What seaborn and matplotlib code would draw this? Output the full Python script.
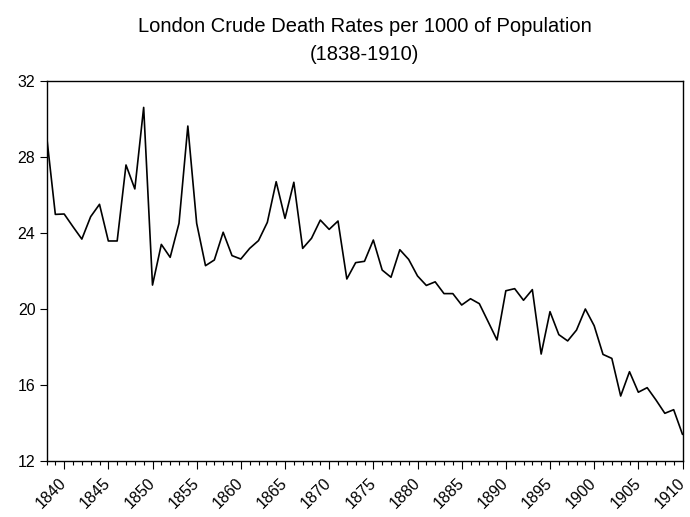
import numpy as np
import pandas as pd
import matplotlib
matplotlib.use("Agg")
import matplotlib.pyplot as plt
from matplotlib.ticker import MultipleLocator
import seaborn as sns

years = list(range(1838, 1911))
death_rates = [
    29.16, 24.98, 25.00, 24.33, 23.68, 24.86, 25.51, 23.58, 23.58, 27.58,
    26.32, 30.61, 21.26, 23.40, 22.72, 24.51, 29.63, 24.51, 22.28, 22.58,
    24.04, 22.81, 22.63, 23.19, 23.60, 24.56, 26.70, 24.77, 26.67, 23.19,
    23.72, 24.68, 24.19, 24.63, 21.58, 22.44, 22.51, 23.63, 22.05, 21.67,
    23.12, 22.61, 21.74, 21.24, 21.43, 20.81, 20.81, 20.21, 20.54, 20.28,
    19.33, 18.37, 20.96, 21.07, 20.46, 21.02, 17.63, 19.86, 18.65, 18.32,
    18.89, 20.00, 19.12, 17.61, 17.40, 15.42, 16.70, 15.62, 15.86, 15.21,
    14.51, 14.70, 13.40,
]
y_ticks = [12, 16, 20, 24, 28, 32]
x_ticks = list(range(1840, 1911, 5))
title = "London Crude Death Rates per 1000 of Population\n(1838-1910)"

sns.set_theme(style="white")
plt.rcParams['font.family'] = ['Liberation Sans', 'DejaVu Sans']
plt.rcParams['text.color'] = 'black'
plt.rcParams['xtick.color'] = 'black'
plt.rcParams['ytick.color'] = 'black'
plt.rcParams['axes.labelcolor'] = 'black'

df = pd.DataFrame({"year": years, "rate": death_rates})

fig = plt.figure(figsize=(6.9, 5.17), dpi=100)
ax = fig.add_axes([46.5 / 690, 1 - 461 / 517, (682.5 - 46.5) / 690, (461 - 81) / 517])
sns.lineplot(data=df, x="year", y="rate", ax=ax, color="black", linewidth=1.2)

ax.set_xlim(1838, 1910)
ax.set_ylim(12, 32)
ax.set_yticks(y_ticks)
ax.set_xticks(x_ticks)
ax.set_xticklabels([str(x) for x in x_ticks], rotation=45, ha="right", va="center",
                   rotation_mode="anchor")
ax.xaxis.set_minor_locator(MultipleLocator(1))
ax.tick_params(axis="x", which="major", direction="out", length=6, width=0.8,
               labelsize=11.5, bottom=True, pad=8)
ax.tick_params(axis="x", which="minor", direction="out", length=3, width=0.8, bottom=True)
ax.tick_params(axis="y", which="major", direction="out", length=5, width=0.8,
               labelsize=11.5, left=True, pad=3)
ax.set_xlabel("")
ax.set_ylabel("")
for s in ax.spines.values():
    s.set_visible(True)
    s.set_color("black")
    s.set_linewidth(1.0)
ax.grid(False)
fig.suptitle(title, x=364.5 / 690, y=1 - 17 / 517, va="top", fontsize=14.5, linespacing=1.6)

fig.savefig("out.png", dpi=100, facecolor="white")
